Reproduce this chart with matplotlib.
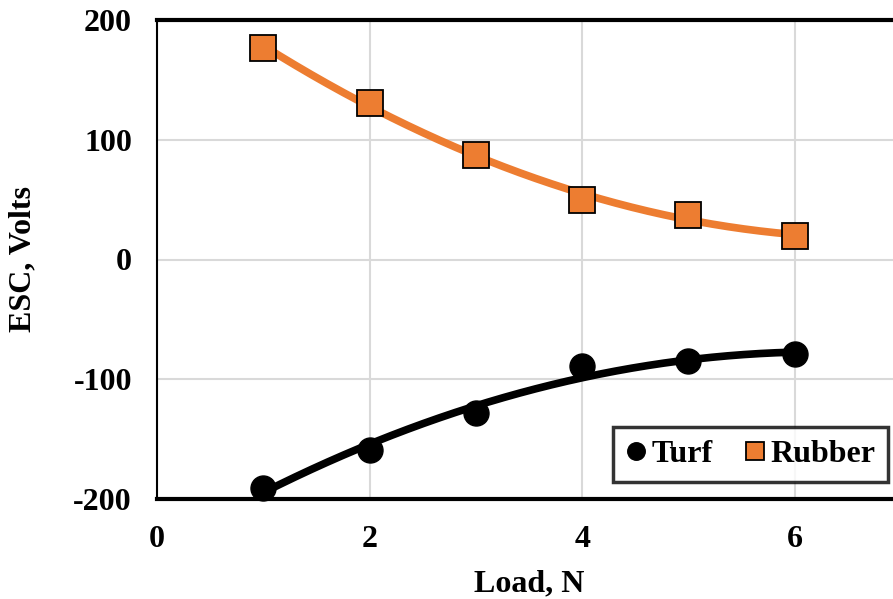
import numpy as np
import matplotlib
matplotlib.use("Agg")
import matplotlib.pyplot as plt

# data
load = [1, 2, 3, 4, 5, 6]
turf = [-191, -159, -128, -89, -85, -79]
rubber = [177, 131, 87, 50, 37, 20]

orange = "#ED7D31"
plt.rcParams['font.family'] = ['Liberation Serif', 'DejaVu Serif']
plt.rcParams['font.weight'] = 'bold'
plt.rcParams['axes.unicode_minus'] = False

fig = plt.figure(figsize=(8.93, 5.99), dpi=100)
ax = fig.add_axes([157 / 893, 100 / 599, 744 / 893, 479 / 599])

# second order trend lines (as in the spreadsheet)
xs = np.linspace(min(load), max(load), 200)
for ys, col in [(turf, "black"), (rubber, orange)]:
    p = np.polyfit(load, ys, 2)
    ax.plot(xs, np.polyval(p, xs), color=col, lw=5.5, zorder=3, solid_capstyle='butt')

ax.plot(load, turf, 'o', ms=18, color="black", zorder=4, label="Turf", clip_on=False)
ax.plot(load, rubber, 's', ms=19, mfc=orange, mec="black", mew=1.3, zorder=4,
        label="Rubber", clip_on=False)

ax.set_xlim(0, 7)
ax.set_ylim(-200, 200)
ax.set_xticks([0, 2, 4, 6])
ax.set_yticks([-200, -100, 0, 100, 200])
ax.grid(True, color="#d9d9d9", lw=1.5)
ax.set_axisbelow(True)
ax.tick_params(length=0, labelsize=23)
ax.tick_params(axis='x', pad=19)
ax.tick_params(axis='y', pad=18)
for lab in ax.get_xticklabels() + ax.get_yticklabels():
    lab.set_fontweight('bold')

ax.spines['top'].set_linewidth(3)
ax.spines['bottom'].set_linewidth(3)
ax.spines['left'].set_linewidth(1.5)
ax.spines['right'].set_visible(False)

ax.set_xlabel("Load, N", fontsize=23, fontweight='bold', labelpad=11)
ax.set_ylabel("ESC, Volts", fontsize=23, fontweight='bold', labelpad=26)

leg = ax.legend(loc='lower right', bbox_to_anchor=(0.983, 0.035), borderaxespad=0,
                ncol=2, fontsize=23, frameon=True, fancybox=False, markerscale=0.7,
                handlelength=0.6, handletextpad=0.2, columnspacing=1.0,
                borderpad=0.4)
leg.get_frame().set_edgecolor("black")
leg.get_frame().set_linewidth(2.5)
for t in leg.get_texts():
    t.set_fontweight('bold')

fig.savefig("out.png", dpi=100)
